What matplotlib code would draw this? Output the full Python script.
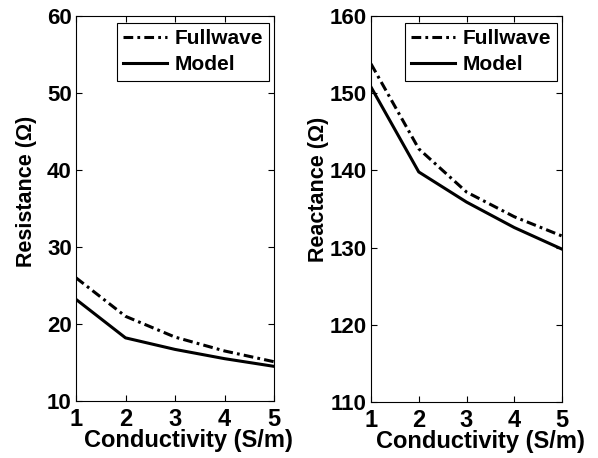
import numpy as np
import matplotlib
matplotlib.use('Agg')
import matplotlib.pyplot as plt

plt.rcParams['font.family'] = ['Liberation Sans', 'DejaVu Sans']
plt.rcParams['font.weight'] = 'bold'
plt.rcParams['lines.scale_dashes'] = False

# Datos
conductividad = [1, 2, 3, 4, 5]
res_fullwave = [26.0, 21.0, 18.3, 16.5, 15.1]
res_model = [23.2, 18.2, 16.7, 15.5, 14.5]
reac_fullwave = [153.8, 142.8, 137.2, 134.0, 131.5]
reac_model = [150.8, 139.8, 135.9, 132.6, 129.8]

fig = plt.figure(figsize=(5.98, 4.58), dpi=100)
ax1 = fig.add_axes([76/598, 1-401/458, 198/598, 385/458])
ax2 = fig.add_axes([371/598, 1-402/458, 191/598, 386/458])

guion_punto = (0, (7, 3, 2, 3))

def estilo(ax, ylim, yticks, ylabel, ylab_x, ylab_y, xlab_x):
    ax.set_xlim(1, 5)
    ax.set_ylim(*ylim)
    ax.set_xticks(conductividad)
    ax.set_yticks(yticks)
    ax.tick_params(direction='in', top=True, right=True, length=4, width=0.8)
    ax.tick_params(axis='x', labelsize=17, pad=5)
    ax.tick_params(axis='y', labelsize=16, pad=3)
    for lab in ax.get_xticklabels() + ax.get_yticklabels():
        lab.set_fontweight('bold')
    ax.set_xlabel('Conductivity (S/m)', fontsize=17, fontweight='bold')
    ax.xaxis.set_label_coords(xlab_x, -0.072)
    ax.set_ylabel(ylabel, fontsize=15.5, fontweight='bold')
    ax.yaxis.set_label_coords(ylab_x, ylab_y)
    leg = ax.legend(loc='upper right', bbox_to_anchor=(0.975, 0.982), borderaxespad=0,
                    fontsize=15, fancybox=False, framealpha=1, edgecolor='black',
                    handlelength=2.1, labelspacing=0.35, handletextpad=0.35,
                    borderpad=0.3)
    leg.get_frame().set_linewidth(0.8)
    for t in leg.get_texts():
        t.set_fontweight('bold')

ax1.plot(conductividad, res_fullwave, color='k', ls=guion_punto, lw=2.2, label='Fullwave')
ax1.plot(conductividad, res_model, 'k-', lw=2.2, label='Model')
estilo(ax1, (10, 60), [10, 20, 30, 40, 50, 60], 'Resistance (\u03a9)', -0.197, 0.545, 0.566)

ax2.plot(conductividad, reac_fullwave, color='k', ls=guion_punto, lw=2.2, label='Fullwave')
ax2.plot(conductividad, reac_model, 'k-', lw=2.2, label='Model')
estilo(ax2, (110, 160), [110, 120, 130, 140, 150, 160], 'Reactance (\u03a9)', -0.22, 0.552, 0.571)

fig.savefig('out.png', dpi=100)
